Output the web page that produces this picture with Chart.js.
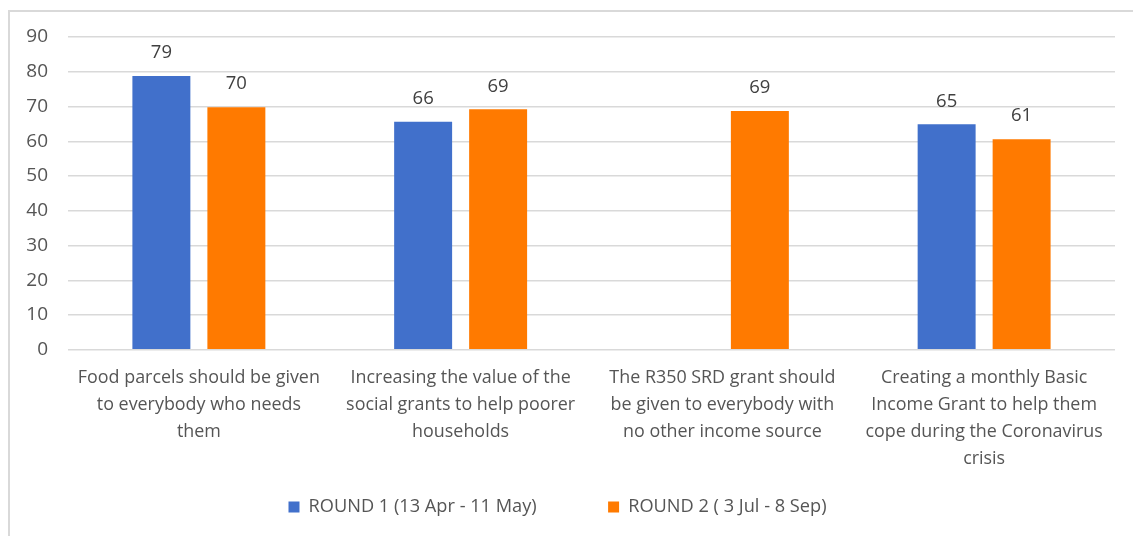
<!DOCTYPE html>
<html>
<head>
<meta charset="utf-8">
<script src="https://cdn.jsdelivr.net/npm/chart.js@4/dist/chart.umd.min.js"></script>
<style>
  html, body { margin: 0; padding: 0; background: #fff; }
  body { width: 1133px; height: 536px; position: relative; overflow: hidden; }
  #frame { position: absolute; left: 8px; top: 10px; width: 1200px; height: 600px;
           border-left: 2px solid #d9d9d9; border-top: 2px solid #d9d9d9; box-sizing: border-box; }
  #wrap { position: absolute; left: 0; top: 0; width: 1133px; height: 536px; }
</style>
</head>
<body>
<div id="frame"></div>
<div id="wrap"><canvas id="c" width="1133" height="536"></canvas></div>
<script>
const categories = [
  ["Food parcels should be given", "to everybody who needs", "them"],
  ["Increasing the value of the", "social grants to help poorer", "households"],
  ["The R350 SRD grant should", "be given to everybody with", "no other income source"],
  ["Creating a monthly Basic", "Income Grant to help them", "cope during the Coronavirus", "crisis"]
];
const seriesNames = ["ROUND 1 (13 Apr - 11 May)", "ROUND 2 ( 3 Jul - 8 Sep)"];
const round1 = [78.8, 65.6, null, 64.9];
const round2 = [69.8, 69.2, 68.7, 60.6];
const yTicks = [0, 10, 20, 30, 40, 50, 60, 70, 80, 90];

const FONT = "'Open Sans', sans-serif";
const TXT = '#555555';

const valueLabels = {
  id: 'valueLabels',
  afterDatasetsDraw(chart) {
    const ctx = chart.ctx;
    ctx.save();
    ctx.font = '18.5px ' + FONT;
    ctx.fillStyle = '#404040';
    ctx.textAlign = 'center';
    ctx.textBaseline = 'middle';
    chart.data.datasets.forEach((ds, i) => {
      const meta = chart.getDatasetMeta(i);
      meta.data.forEach((bar, j) => {
        const v = ds.data[j];
        if (v === null || v === undefined) return;
        ctx.fillText(String(Math.round(v)), bar.x, bar.y - 23);
      });
    });
    ctx.restore();
  }
};

new Chart(document.getElementById('c'), {
  type: 'bar',
  data: {
    labels: categories,
    datasets: [
      { label: seriesNames[0] + '\u00a0'.repeat(13), data: round1, backgroundColor: '#4170CB',
        categoryPercentage: 0.573, barPercentage: 0.773 },
      { label: seriesNames[1], data: round2, backgroundColor: '#FF7A00',
        categoryPercentage: 0.573, barPercentage: 0.773 }
    ]
  },
  options: {
    responsive: false,
    animation: false,
    devicePixelRatio: 1,
    layout: { padding: { top: 37, right: 18, left: 0, bottom: 10 } },
    plugins: {
      tooltip: { enabled: false },
      legend: {
        position: 'bottom',
        labels: {
          boxWidth: 11, boxHeight: 11, padding: 10,
          color: TXT, font: { family: FONT, size: 18.2 }
        }
      }
    },
    scales: {
      x: {
        grid: { display: false, drawTicks: false },
        border: { display: false },
        ticks: {
          color: TXT, font: { family: FONT, size: 17.9, lineHeight: 27 / 17.9 },
          maxRotation: 0, minRotation: 0, autoSkip: false, padding: 15
        },
        afterFit(scale) { scale.height = 138; }
      },
      y: {
        min: 0, max: 90,
        afterBuildTicks(scale) { scale.ticks = yTicks.map(v => ({ value: v })); },
        grid: { color: '#d9d9d9', lineWidth: 1.5, drawTicks: false },
        border: { display: false },
        ticks: { color: TXT, font: { family: FONT, size: 19 }, padding: 20 },
        afterFit(scale) { scale.width = 68; }
      }
    }
  },
  plugins: [valueLabels]
});
</script>
</body>
</html>
